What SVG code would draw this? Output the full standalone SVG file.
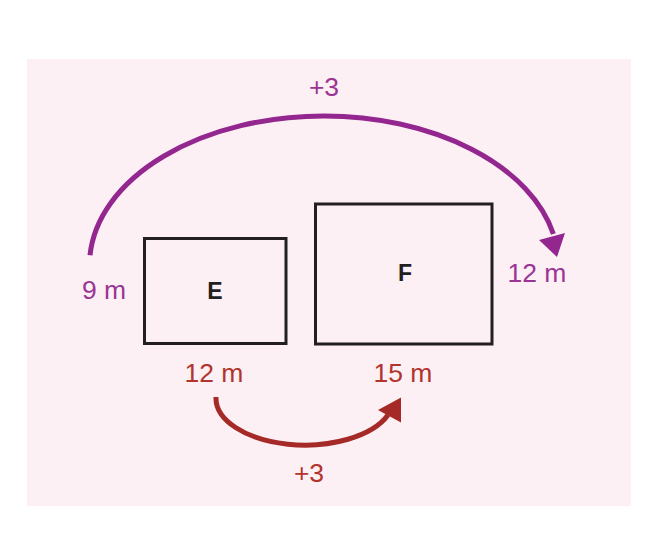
<svg xmlns="http://www.w3.org/2000/svg" width="667" height="537" viewBox="0 0 667 537">
  <style>
    .box { fill: none; stroke: #231f20; stroke-width: 3; }
    .lbl { font-family: "Liberation Sans", Arial, sans-serif; font-size: 26.5px; text-anchor: middle; }
    .name { font-family: "Liberation Sans", Arial, sans-serif; font-size: 23px; font-weight: bold; fill: #231f20; text-anchor: middle; }
    .purple { fill: #9a3596; }
    .red { fill: #b1342d; }
    .arcP { fill: none; stroke: #93278f; stroke-width: 5; }
    .arcR { fill: none; stroke: #a52a27; stroke-width: 5; }
  </style>
  <rect x="0" y="0" width="667" height="537" fill="#ffffff"/>
  <rect x="27" y="59" width="604" height="447" fill="#fcf0f4"/>

  <g id="node-E">
    <rect class="box" x="144.5" y="238.5" width="141.5" height="105"/>
    <text class="name" x="215" y="299">E</text>
  </g>
  <g id="node-F">
    <rect class="box" x="315.5" y="204" width="176.5" height="140"/>
    <text class="name" x="405" y="281">F</text>
  </g>

  <g id="labels">
    <text class="lbl purple" x="104" y="299">9 m</text>
    <text class="lbl purple" x="537" y="282">12 m</text>
    <text class="lbl purple" x="324" y="96">+3</text>
    <text class="lbl red" x="214" y="382">12 m</text>
    <text class="lbl red" x="403" y="381.5">15 m</text>
    <text class="lbl red" x="309" y="481.5">+3</text>
  </g>

  <g id="connectors">
    <path class="arcP" d="M90,255.3 A234.5,149 0 0 1 324,116 A234.5,149 0 0 1 553.4,234"/>
    <polygon points="557,257 539,240 565,233" fill="#93278f"/>
    <path class="arcR" d="M216,397 A89,47 0 0 0 388,415"/>
    <polygon points="401,397.5 378,410 401,422.5" fill="#a52a27"/>
  </g>
</svg>
